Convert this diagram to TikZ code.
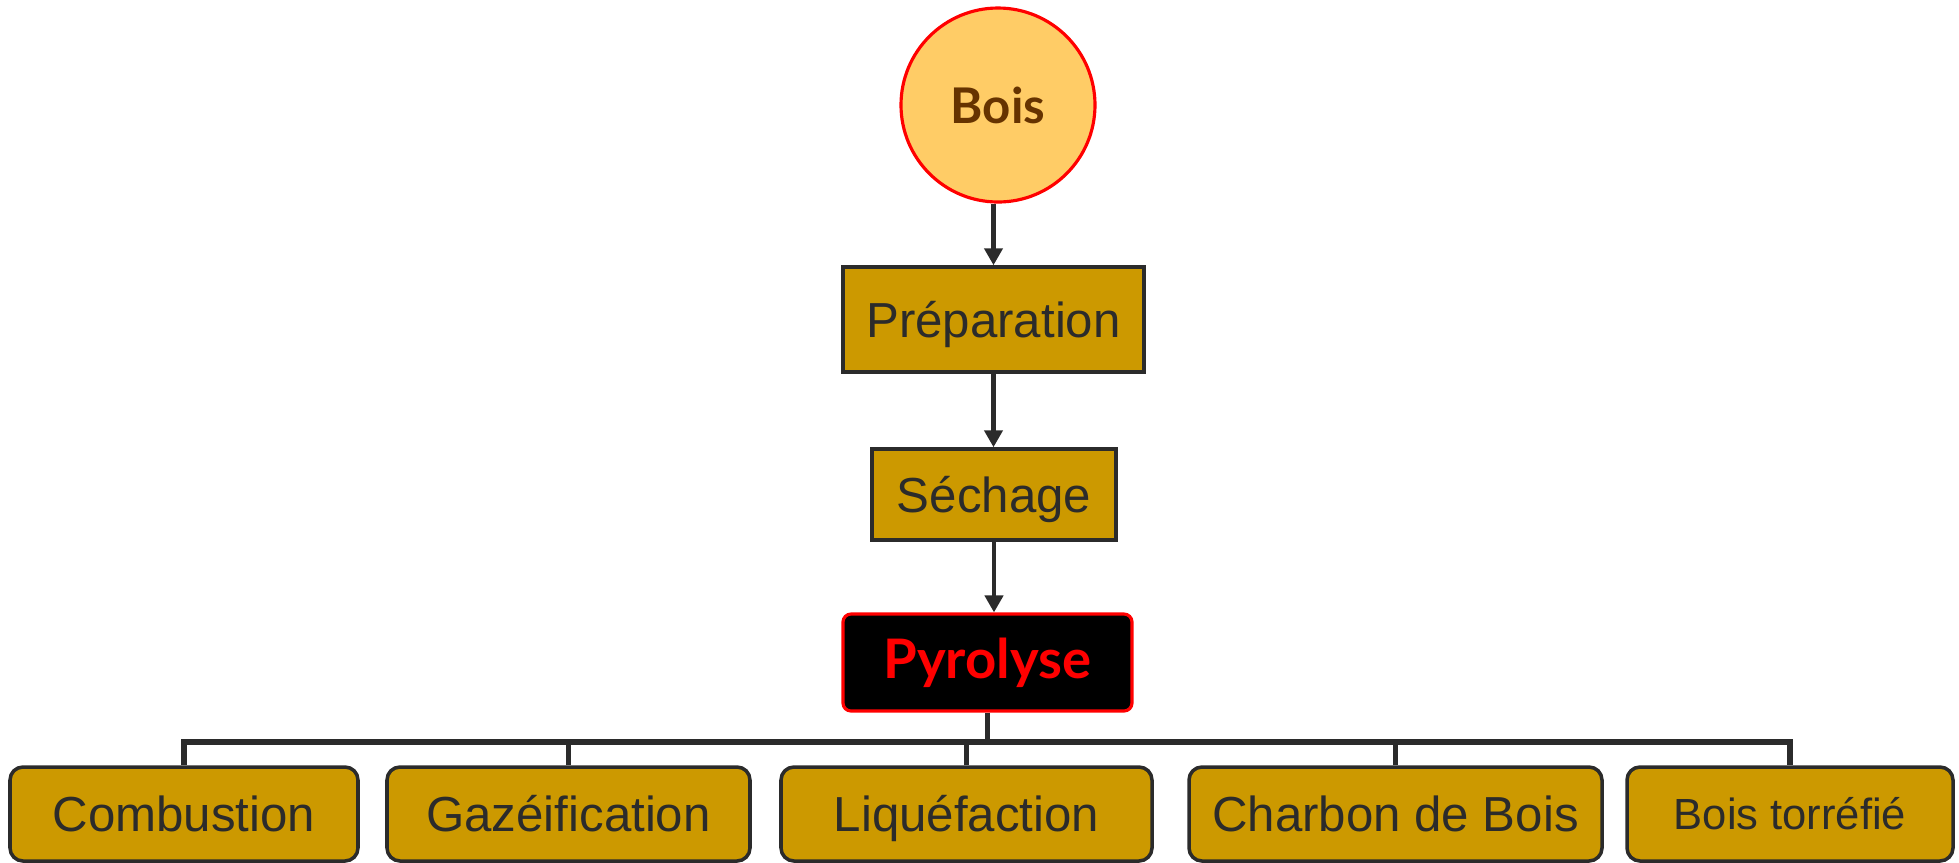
\documentclass[tikz,border=0pt]{standalone}
\usepackage{fontspec}
\setmainfont{Liberation Sans}
\newfontfamily\titlefont{Lato}
\usetikzlibrary{arrows.meta}

\definecolor{boxfill}{HTML}{CC9900}
\definecolor{boisfill}{HTML}{FFCC66}
\definecolor{boistext}{HTML}{663300}
\definecolor{inkgrey}{HTML}{2B2B2B}

\tikzset{
    stepbox/.style={rectangle, draw=inkgrey, fill=boxfill, line width=1pt, text=inkgrey,
        inner sep=0pt, text height=0.35cm, text depth=0pt, font=\fontsize{14}{16}\selectfont},
    prodbox/.style={stepbox, rounded corners=0.13cm},
    flow/.style={draw=inkgrey, line width=1.4pt, -{Triangle[width=0.18cm,length=0.17cm]}},
    bus/.style={draw=inkgrey, line width=1.6pt}
}

\begin{document}
\begin{tikzpicture}
    \useasboundingbox (0,0) rectangle (19.59,-8.62);

    \node[circle, draw=red, fill=boisfill, line width=0.9pt, minimum size=1.94cm, inner sep=0pt,
        text=boistext, font=\titlefont\bfseries\fontsize{14}{16}\selectfont] (bois) at (9.98,-1.05) {Bois};
    \node[stepbox, minimum width=3.01cm, minimum height=1.05cm] (prep) at (9.935,-3.195) {Préparation};
    \node[stepbox, minimum width=2.44cm, minimum height=0.91cm] (sech) at (9.94,-4.945) {Séchage};
    \node[rectangle, draw=red, fill=black, line width=0.9pt, rounded corners=0.08cm,
        minimum width=2.89cm, minimum height=0.97cm, inner sep=0pt, text=red,
        font=\titlefont\bfseries\fontsize{15.5}{18}\selectfont] (pyro) at (9.875,-6.625) {Pyrolyse};

    \node[prodbox, minimum width=3.48cm, minimum height=0.94cm] (comb) at (1.84,-8.14) {Combustion};
    \node[prodbox, minimum width=3.63cm, minimum height=0.94cm] (gaz) at (5.685,-8.14) {Gazéification};
    \node[prodbox, minimum width=3.71cm, minimum height=0.94cm] (liq) at (9.665,-8.14) {Liquéfaction};
    \node[prodbox, minimum width=4.13cm, minimum height=0.94cm] (charb) at (13.955,-8.14) {Charbon de Bois};
    \node[prodbox, minimum width=3.26cm, minimum height=0.94cm, text height=0.31cm,
        font=\fontsize{12.4}{14}\selectfont] (torr) at (17.90,-8.14) {Bois torréfié};

    \draw[flow] (bois.south -| prep.north) -- (prep.north);
    \draw[flow] (prep.south) -- (prep.south |- sech.north);
    \draw[flow] (sech.south) -- (sech.south |- pyro.north);

    \coordinate (rail) at (0,-7.42);
    \draw[bus] (pyro.south) -- (pyro.south |- rail);
    \draw[bus] (comb.north) -- (comb.north |- rail) -- (torr.north |- rail) -- (torr.north);
    \foreach \n in {gaz,charb}
        \draw[bus] (\n.north) -- (\n.north |- rail);
    \draw[bus, line width=1.2pt] (liq.north) -- (liq.north |- rail);
\end{tikzpicture}
\end{document}
